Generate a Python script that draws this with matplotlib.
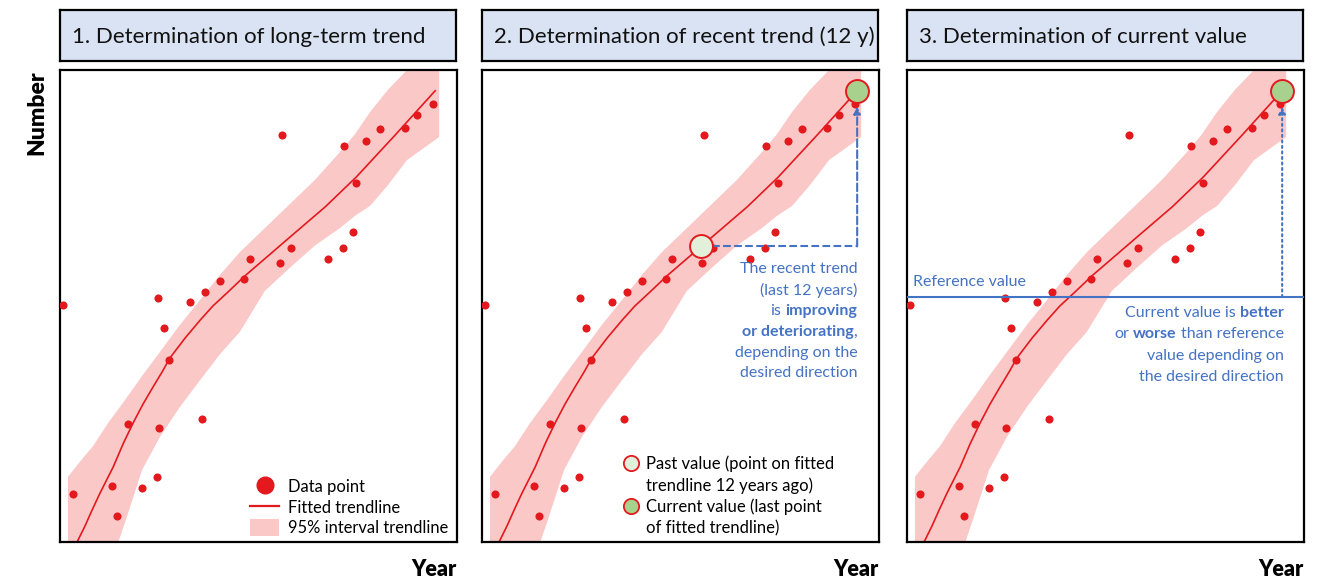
import numpy as np
import matplotlib.pyplot as plt
from matplotlib.lines import Line2D
from matplotlib.patches import Patch

plt.rcParams['font.family'] = ['Lato', 'DejaVu Sans']

RED = '#E3191E'
BAND = '#FBC8C8'
BLUE = '#4472C4'
TITLE_BG = '#DAE3F3'
PAST_FILL = '#E2F0D9'
CURRENT_FILL = '#A9D18E'

# observations, both axes on an arbitrary 0-100 scale
obs_year = [0.7, 3.2, 13.2, 14.4, 17.2, 20.6, 24.4, 24.8, 25.0, 26.1,
            27.5, 32.7, 35.8, 36.6, 40.3, 46.3, 47.9, 55.4, 55.9, 58.2,
            67.5, 71.4, 71.6, 73.8, 74.6, 77.0, 80.7, 86.9, 90.0, 93.9]
obs_value = [50.2, 10.2, 11.9, 5.5, 25.1, 11.4, 13.7, 51.8, 24.1, 45.3,
             38.6, 50.8, 26.1, 52.9, 55.3, 55.8, 60.0, 59.2, 86.3, 62.3,
             60.0, 62.2, 84.0, 65.7, 76.0, 85.0, 87.5, 87.8, 90.5, 92.9]

# fitted trendline
trend_year = [4.3, 6.3, 8.1, 10.1, 13.4, 15.9, 18.4, 20.9, 23.4, 25.7, 27.7,
              31.5, 35.3, 38.5, 42.1, 46.6, 52.4, 58.2, 66.8, 74.6, 84.4, 94.5]
trend_value = [0.0, 3.4, 6.8, 10.4, 15.9, 20.8, 25.2, 29.2, 32.8, 36.0, 39.0,
               43.2, 47.0, 50.0, 52.8, 56.4, 60.6, 64.8, 71.0, 77.3, 86.2, 95.6]

# 95% interval of the trendline
band_year = [2.0, 5.0, 8.3, 12.1, 16.4, 20.7, 25.2, 30.2, 35.3, 40.3,
             45.3, 51.6, 57.9, 64.2, 70.5, 74.3, 78.1, 82.6, 87.4, 95.5]
band_low = [-20.8, -16.5, -12.3, -6.4, 4.2, 15.3, 22.3, 28.6, 34.3, 39.8,
            44.5, 53.2, 58.1, 62.8, 66.5, 69.1, 71.2, 75.6, 80.9, 85.8]
band_high = [13.8, 17.0, 20.3, 25.2, 30.1, 35.2, 40.3, 46.0, 51.3, 56.6,
             61.4, 66.5, 71.6, 76.7, 82.6, 86.4, 91.1, 95.8, 100.0, 106.8]

past_year = 55.2          # 12 years before the last trend point
reference_value = 51.9

titles = ['1. Determination of long-term trend',
          '2. Determination of recent trend (12 y)',
          '3. Determination of current value']

recent_text = [[('The recent trend', False)],
               [('(last 12 years)', False)],
               [('is ', False), ('improving', True)],
               [('or deteriorating', True), (',', False)],
               [('depending on the', False)],
               [('desired direction', False)]]
current_text = [[('Current value is ', False), ('better', True)],
                [('or ', False), ('worse', True), (' than reference', False)],
                [('value depending on', False)],
                [('the desired direction', False)]]

cur_year = trend_year[-1]
cur_value = trend_value[-1]
past_value = np.interp(past_year, trend_year, trend_value)

W, H = 1329, 580
fig = plt.figure(figsize=(W / 100, H / 100), dpi=100)
lefts = [60, 482, 907]


def rich_line(ax, x, y, dy, parts, size=11.5, color=BLUE):
    # right aligned line, built from right to left so bold words can be mixed in
    prev, prev_text = None, ''
    for text, bold in reversed(parts):
        kw = dict(ha='right', va='center', fontsize=size, color=color,
                  fontweight='bold' if bold else 'normal', textcoords='offset points')
        if prev is None:
            prev = ax.annotate(text.strip(), xy=(x, y), xytext=(0, dy), **kw)
        else:
            gap = -3 if (text.endswith(' ') or prev_text.startswith(' ')) else 0
            prev = ax.annotate(text.strip(), xy=(0, 0.5), xycoords=prev, xytext=(gap, 0), **kw)
        prev_text = text


def base_panel(ax):
    ax.fill_between(band_year, band_low, band_high, color=BAND, lw=0, zorder=1)
    ax.plot(trend_year, trend_value, color=RED, lw=1.2, zorder=2)
    ax.scatter(obs_year, obs_value, s=34, color=RED, lw=0, zorder=3)
    ax.set_xlim(0, 100)
    ax.set_ylim(0, 100)
    ax.set_xticks([])
    ax.set_yticks([])
    for sp in ax.spines.values():
        sp.set_linewidth(1.6)
        sp.set_color('black')
    ax.set_xlabel('Year', loc='right', fontsize=15.5, fontweight='heavy', labelpad=12)


axes = []
for i, left in enumerate(lefts):
    ax = fig.add_axes([left / W, 38 / H, 397 / W, 472 / H])
    base_panel(ax)
    axes.append(ax)
    tax = fig.add_axes([left / W, 519 / H, 396 / W, 51 / H])
    tax.set_facecolor(TITLE_BG)
    tax.set_xticks([])
    tax.set_yticks([])
    for sp in tax.spines.values():
        sp.set_linewidth(1.6)
    tax.text(0.03, 0.47, titles[i], fontsize=16, va='center', ha='left', color='#111111')

ax1, ax2, ax3 = axes
ax1.set_ylabel('Number', loc='top', fontsize=16.5, fontweight='heavy', labelpad=9)

# panel 1 legend
h1 = [Line2D([], [], ls='none', marker='o', ms=12, color=RED),
      Line2D([], [], color=RED, lw=1.6),
      Patch(color=BAND, lw=0)]
ax1.legend(h1, ['Data point', 'Fitted trendline', '95% interval trendline'],
           loc='lower left', bbox_to_anchor=(0.479, 0.012), frameon=False,
           fontsize=11.9, handlelength=1.75, handleheight=1.2, handletextpad=0.55,
           labelspacing=0.22, borderpad=0, borderaxespad=0)

# panel 2: past and current value on the fitted trendline
ax2.plot([past_year, cur_year], [past_value, past_value], ls='--', color=BLUE, lw=1.5, zorder=4)
ax2.annotate('', xy=(cur_year, cur_value), xytext=(cur_year, past_value),
             arrowprops=dict(arrowstyle='-|>', color=BLUE, lw=1.5, ls='--',
                             shrinkA=0, shrinkB=11.5, mutation_scale=10), zorder=4)
ax2.plot(past_year, past_value, 'o', ms=16.5, mfc=PAST_FILL, mec=RED, mew=1.4, zorder=5)
ax2.plot(cur_year, cur_value, 'o', ms=16.5, mfc=CURRENT_FILL, mec=RED, mew=1.4, zorder=5)
for i, parts in enumerate(recent_text):
    rich_line(ax2, cur_year, 57.8, -15 * i, parts)

past_h = Line2D([], [], ls='none', marker='o', ms=11, mfc=PAST_FILL, mec=RED, mew=1.3)
cur_h = Line2D([], [], ls='none', marker='o', ms=11, mfc=CURRENT_FILL, mec=RED, mew=1.3)
blank = Line2D([], [], ls='none')
ax2.legend([past_h, blank, cur_h, blank],
           ['Past value (point on fitted', 'trendline 12 years ago)',
            'Current value (last point', 'of fitted trendline)'],
           loc='lower left', bbox_to_anchor=(0.356, 0.012), frameon=False,
           fontsize=12.0, handlelength=0.9, handletextpad=0.45,
           labelspacing=0.3, borderpad=0, borderaxespad=0)

# panel 3: comparison with a reference value
ax3.axhline(reference_value, color=BLUE, lw=1.5, zorder=4)
ax3.text(1.5, reference_value + 3.2, 'Reference value', color=BLUE, fontsize=11.5,
         ha='left', va='center')
ax3.annotate('', xy=(cur_year, cur_value), xytext=(cur_year, reference_value),
             arrowprops=dict(arrowstyle='-|>', color=BLUE, lw=1.5, ls=':',
                             shrinkA=0, shrinkB=11.5, mutation_scale=10), zorder=4)
ax3.plot(cur_year, cur_value, 'o', ms=16.5, mfc=CURRENT_FILL, mec=RED, mew=1.4, zorder=5)
for i, parts in enumerate(current_text):
    rich_line(ax3, cur_year + 0.4, 48.5, -15.3 * i, parts)

fig.savefig('out.png', dpi=100)
